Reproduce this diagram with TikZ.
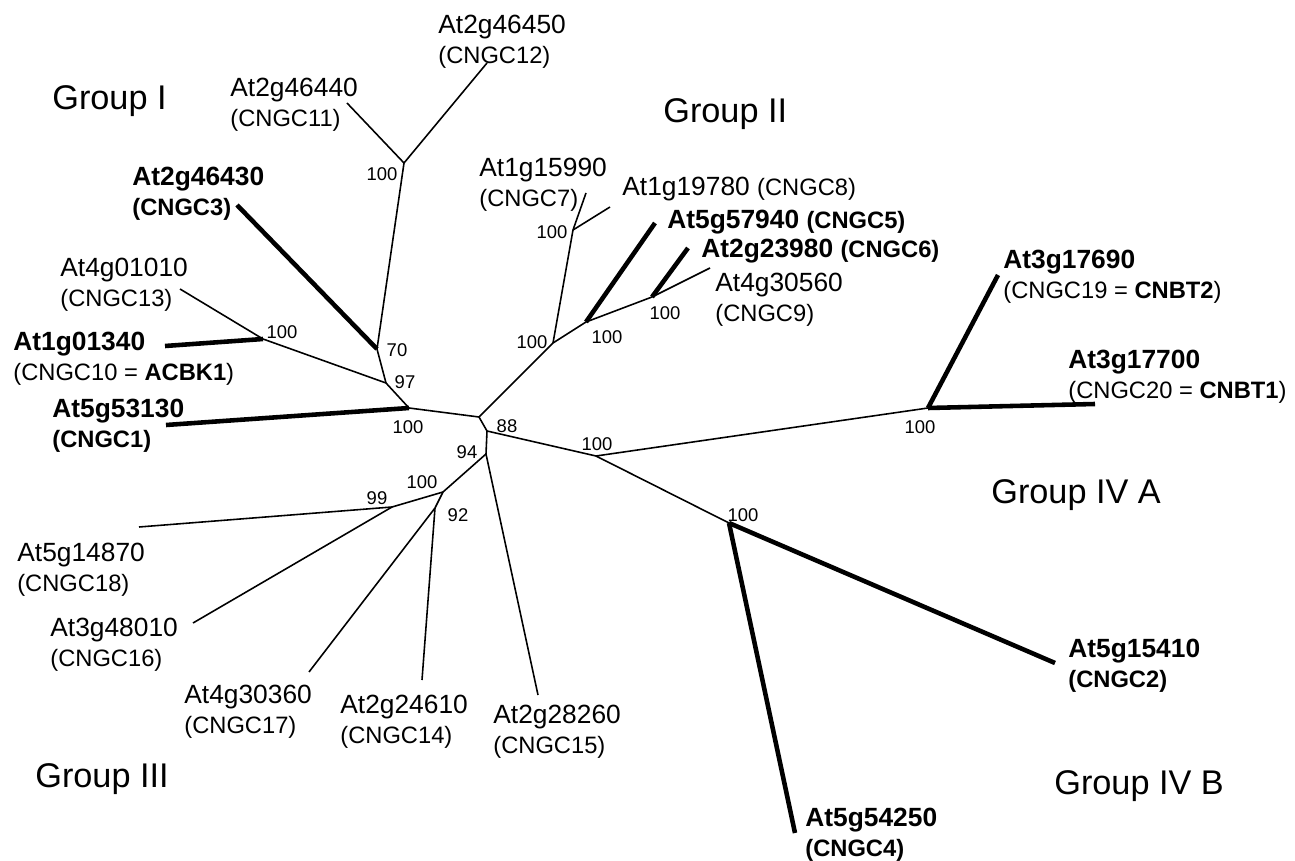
\documentclass[tikz,border=0pt]{standalone}
\usepackage{fontspec}
\setmainfont{Liberation Sans}

\tikzset{
	branch/.style={line width=0.9pt},
	heavy/.style={line width=2.6pt},
	leaf/.style={anchor=north west, inner sep=0pt, align=left, font=\fontsize{15}{17}\selectfont},
	boot/.style={inner sep=0pt, font=\fontsize{10.5}{12}\selectfont},
	grp/.style={anchor=north west, inner sep=0pt, font=\fontsize{19.5}{23}\selectfont},
}
\newcommand{\cngc}[1]{{\fontsize{13.5}{17}\selectfont #1}}

\begin{document}
\begin{tikzpicture}[x=0.02cm, y=-0.02cm]
		\useasboundingbox (0,0) rectangle (1295,861);
		% inner nodes of the tree
		\coordinate (root) at (479,417);
		\coordinate (nIa) at (409,408);
		\coordinate (n97) at (386,383);
		\coordinate (n70) at (377,349);
		\coordinate (nItop) at (404,163);
		\coordinate (nIb) at (263,339);
		\coordinate (nII) at (553,343);
		\coordinate (nIIa) at (573,230);
		\coordinate (nIIb) at (586,322);
		\coordinate (nIIc) at (652,297);
		\coordinate (n88) at (487,431);
		\coordinate (n94) at (486,454);
		\coordinate (nIII) at (443,492);
		\coordinate (n99) at (392,507);
		\coordinate (n92) at (435,508);
		\coordinate (nIV) at (596,456);
		\coordinate (nIVA) at (928,408);
		\coordinate (nIVB) at (729,523);
		% branch ends
		\coordinate (t46450) at (487,63);
		\coordinate (t46440) at (347,103);
		\coordinate (t46430) at (237,205);
		\coordinate (t01010) at (180,289);
		\coordinate (t01340) at (165,346);
		\coordinate (t53130) at (166,425);
		\coordinate (t15990) at (586,193);
		\coordinate (t19780) at (610,207);
		\coordinate (t57940) at (655,223);
		\coordinate (t23980) at (688,248);
		\coordinate (t30560) at (710,268);
		\coordinate (t17690) at (998,275);
		\coordinate (t17700) at (1095,404);
		\coordinate (t15410) at (1055,663);
		\coordinate (t54250) at (795,833);
		\coordinate (t28260) at (538,695);
		\coordinate (t24610) at (422,680);
		\coordinate (t30360) at (309,672);
		\coordinate (t48010) at (193,623);
		\coordinate (t14870) at (139,527);
		
		\foreach \a/\b in {root/nIa, nIa/n97, n97/n70, n70/nItop, nItop/t46440, nItop/t46450,
			n97/nIb, nIb/t01010, root/nII, nII/nIIa, nIIa/t15990, nIIa/t19780, nII/nIIb,
			nIIb/nIIc, nIIc/t30560, root/n88, n88/n94, n88/nIV, nIV/nIVA, nIV/nIVB,
			n94/nIII, n94/t28260, nIII/n99, nIII/n92, n99/t14870, n99/t48010,
			n92/t30360, n92/t24610} {
			\draw[branch] (\a) -- (\b);
		}
		\foreach \a/\b in {n70/t46430, nIb/t01340, nIa/t53130, nIIb/t57940, nIIc/t23980,
			nIVA/t17690, nIVA/t17700, nIVB/t15410, nIVB/t54250} {
			\draw[heavy] (\a) -- (\b);
		}
		
		% Group I
		\node[leaf] (l46450) at (438,15) {At2g46450\\\cngc{(CNGC12)}};
		\node[leaf] (l46440) at (230,78) {At2g46440\\\cngc{(CNGC11)}};
		\node[leaf] (l46430) at (132,167) {\textbf{At2g46430}\\\cngc{\textbf{(CNGC3)}}};
		\node[leaf] (l01010) at (60,258) {At4g01010\\\cngc{(CNGC13)}};
		\node[leaf] (l01340) at (13,332) {\textbf{At1g01340}\\\cngc{(CNGC10 = \textbf{ACBK1})}};
		\node[leaf] (l53130) at (52,399) {\textbf{At5g53130}\\\cngc{\textbf{(CNGC1)}}};
		% Group II
		\node[leaf] (l15990) at (479,158) {At1g15990\\\cngc{(CNGC7)}};
		\node[leaf] (l19780) at (622,177) {At1g19780 \cngc{(CNGC8)}};
		\node[leaf] (l57940) at (667,210) {\textbf{At5g57940} \cngc{\textbf{(CNGC5)}}};
		\node[leaf] (l23980) at (701,239) {\textbf{At2g23980} \cngc{\textbf{(CNGC6)}}};
		\node[leaf] (l30560) at (715,273) {At4g30560\\\cngc{(CNGC9)}};
		% Group IV
		\node[leaf] (l17690) at (1003,250) {\textbf{At3g17690}\\\cngc{(CNGC19 = \textbf{CNBT2})}};
		\node[leaf] (l17700) at (1068,350) {\textbf{At3g17700}\\\cngc{(CNGC20 = \textbf{CNBT1})}};
		\node[leaf] (l15410) at (1068,639) {\textbf{At5g15410}\\\cngc{\textbf{(CNGC2)}}};
		\node[leaf] (l54250) at (805,808) {\textbf{At5g54250}\\\cngc{\textbf{(CNGC4)}}};
		% Group III
		\node[leaf] (l14870) at (17,543) {At5g14870\\\cngc{(CNGC18)}};
		\node[leaf] (l48010) at (50,618) {At3g48010\\\cngc{(CNGC16)}};
		\node[leaf] (l30360) at (184,685) {At4g30360\\\cngc{(CNGC17)}};
		\node[leaf] (l24610) at (340,695) {At2g24610\\\cngc{(CNGC14)}};
		\node[leaf] (l28260) at (493,705) {At2g28260\\\cngc{(CNGC15)}};
		
		% bootstrap values
		\node[boot] (b1) at (382,174) {100};
		\node[boot] (b2) at (397,350) {70};
		\node[boot] (b3) at (405,382) {97};
		\node[boot] (b4) at (408,427) {100};
		\node[boot] (b5) at (282,332) {100};
		\node[boot] (b6) at (532,342) {100};
		\node[boot] (b7) at (552,232) {100};
		\node[boot] (b8) at (607,337) {100};
		\node[boot] (b9) at (665,313) {100};
		\node[boot] (b10) at (507,426) {88};
		\node[boot] (b11) at (467,452) {94};
		\node[boot] (b12) at (597,444) {100};
		\node[boot] (b13) at (920,427) {100};
		\node[boot] (b14) at (743,515) {100};
		\node[boot] (b15) at (422,482) {100};
		\node[boot] (b16) at (377,498) {99};
		\node[boot] (b17) at (458,515) {92};
		
		\node[grp] (gI) at (52,85) {Group I};
		\node[grp] (gII) at (663,98) {Group II};
		\node[grp] (gIII) at (35,763) {Group III};
		\node[grp] (gIVA) at (991,479) {Group IV A};
		\node[grp] (gIVB) at (1054,770) {Group IV B};
	\end{tikzpicture}
\end{document}
